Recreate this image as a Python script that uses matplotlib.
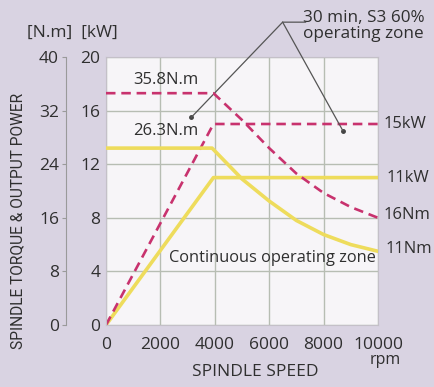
import matplotlib.pyplot as plt

plt.rcParams['font.family'] = ['Open Sans', 'DejaVu Sans']

# data
speed_ticks = [0, 2000, 4000, 6000, 8000, 10000]
kw_ticks = [0, 4, 8, 12, 16, 20]
nm_ticks = [0, 8, 16, 24, 32, 40]

s3_power_speed = [0, 3950, 10000]
s3_power_kw = [0, 15, 15]
s3_torque_speed = [0, 3950, 5000, 6000, 7000, 8000, 9000, 10000]
s3_torque_nm = [34.6, 34.6, 30.6, 26.4, 22.6, 19.7, 17.6, 16.0]

cont_power_speed = [0, 3950, 10000]
cont_power_kw = [0, 11, 11]
cont_torque_speed = [0, 3900, 5000, 6000, 7000, 8000, 9000, 10000]
cont_torque_nm = [26.4, 26.4, 21.8, 18.5, 15.6, 13.5, 12.0, 11.0]

W, H = 435, 387
txt = '#2f2f2f'
red = '#c8326e'
yellow = '#eedc5c'
grid_c = '#b7bdb3'

fig = plt.figure(figsize=(W / 100, H / 100), dpi=100, facecolor='#d9d3e2')
ax = fig.add_axes([106 / W, 62 / H, 272 / W, 268 / H])
ax.set_facecolor('#f7f5f8')
ax.set_xlim(0, 10000)
ax.set_ylim(0, 20)
ax.set_xticks(speed_ticks)
ax.set_yticks(kw_ticks)
ax.grid(color=grid_c, lw=1)
ax.set_axisbelow(True)
ax.tick_params(length=0, labelsize=12.5, colors=txt)
ax.tick_params(axis='x', pad=8.5)
ax.tick_params(axis='y', pad=4)
for s in ax.spines.values():
    s.set_color('#c4c0c8')

axt = ax.twinx()
axt.set_ylim(0, 40)
axt.set_yticks(nm_ticks)
axt.yaxis.tick_left()
for k in ['right', 'top', 'bottom']:
    axt.spines[k].set_visible(False)
axt.spines['left'].set_position(('outward', 28.8))
axt.spines['left'].set_color('#9a9a9a')
axt.tick_params(axis='y', length=3, color='#9a9a9a', labelsize=12.5,
                labelcolor=txt, pad=2)

# curves
ax.plot(cont_power_speed, cont_power_kw, color=yellow, lw=2.6, solid_capstyle='butt')
axt.plot(cont_torque_speed, cont_torque_nm, color=yellow, lw=2.6)
ax.plot(s3_power_speed, s3_power_kw, color=red, lw=1.9, dashes=(3.6, 2.2))
axt.plot(s3_torque_speed, s3_torque_nm, color=red, lw=1.9, dashes=(3.6, 2.2))

# labels inside the plot
axt.text(2200, 36.6, '35.8N.m', ha='center', va='center', fontsize=12, color=txt)
axt.text(2200, 28.9, '26.3N.m', ha='center', va='center', fontsize=12, color=txt)
ax.text(9930, 5.0, 'Continuous operating zone', ha='right', va='center',
        fontsize=11.8, color=txt)

# right side labels
ax.text(10200, 15, '15kW', ha='left', va='center', fontsize=12, color=txt, clip_on=False)
ax.text(10310, 11, '11kW', ha='left', va='center', fontsize=12, color=txt, clip_on=False)
axt.text(10200, 16.4, '16Nm', ha='left', va='center', fontsize=12, color=txt, clip_on=False)
axt.text(10270, 11.3, '11Nm', ha='left', va='center', fontsize=12, color=txt, clip_on=False)

# leader lines for the S3 zone
apex = (6494, 22.6)
for dot in [(3137, 15.5), (8708, 14.5)]:
    ax.annotate('', xy=dot, xytext=apex, annotation_clip=False,
                arrowprops=dict(arrowstyle='-', color='#555555', lw=0.9,
                                shrinkA=0, shrinkB=0))
    ax.plot(*dot, 'o', color='#444444', ms=2.5, clip_on=False)
ax.annotate('', xy=(7343, 22.6), xytext=apex, annotation_clip=False,
            arrowprops=dict(arrowstyle='-', color='#555555', lw=0.9,
                            shrinkA=0, shrinkB=0))
fig.text(303 / W, 1 - 26 / H, '30 min, S3 60%\noperating zone', ha='left',
         va='center', fontsize=12.3, color=txt, linespacing=0.95)

# axis titles
fig.text(27 / W, 1 - 33 / H, '[N.m]  [kW]', ha='left', va='center', fontsize=12.5, color=txt)
fig.text(18 / W, 1 - 221 / H, 'SPINDLE TORQUE & OUTPUT POWER', rotation=90,
         ha='center', va='center', fontsize=11.2, color=txt,
         family=['Roboto', 'DejaVu Sans'])
fig.text(255 / W, 1 - 372 / H, 'SPINDLE SPEED', ha='center', va='center',
         fontsize=12.5, color=txt)
fig.text(385 / W, 1 - 360 / H, 'rpm', ha='center', va='center', fontsize=11.5, color=txt)

fig.savefig('out.png', dpi=100, facecolor=fig.get_facecolor())
